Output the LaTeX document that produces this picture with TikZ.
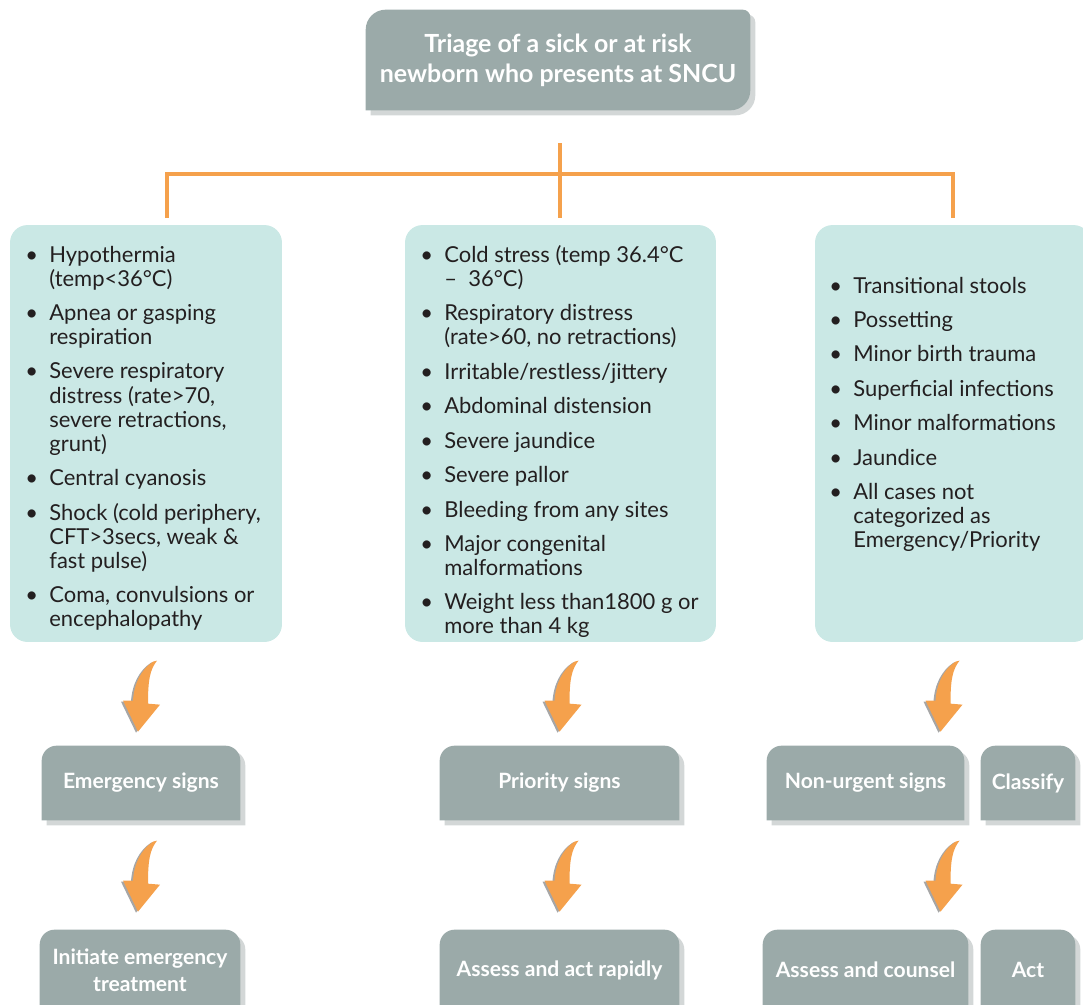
\documentclass[tikz,border=0pt]{standalone}
\usepackage{fontspec}
\setmainfont{Lato}
\usetikzlibrary{positioning,calc,backgrounds}

\definecolor{triagegray}{HTML}{9BAAA9}
\definecolor{shadowgray}{HTML}{D3D7D7}
\definecolor{paleteal}{HTML}{CAE8E5}
\definecolor{linkorange}{HTML}{F5A14C}
\definecolor{inkgray}{HTML}{231F20}

\newcommand{\itm}{\makebox[0.48cm][l]{\textbullet}}
\newcommand{\bendpath}{(0,0) -- (-15,-31) -- (-5,-31) .. controls (-4,-48) and (3,-62) .. (15,-70) -- (19,-71) .. controls (12,-62) and (10,-52) .. (10,-28) -- (22,-27) -- cycle}

\tikzset{
  signtext/.style={text=white, font=\fontsize{12}{15.3}\selectfont\bfseries, align=center, inner sep=0pt},
  listbox/.style={fill=paleteal, rounded corners=0.35cm},
  listtext/.style={text=inkgray, font=\fontsize{12.5}{13.6}\selectfont, inner sep=0pt, anchor=base west},
  link/.style={draw=linkorange, line width=2.8pt},
  dropshadow/.style={shadowgray, transform canvas={xshift=0.1cm, yshift=-0.1cm}},
  bendarrow/.pic={
    \fill[black!35, shift={(-2,1)}] \bendpath;
    \fill[linkorange] \bendpath;
  }
}

\begin{document}
\begin{tikzpicture}[x=0.02cm, y=-0.02cm]
\useasboundingbox (0,0) rectangle (1083,1005);

% title
\node[signtext, font=\fontsize{14.2}{17}\selectfont\bfseries, minimum width=7.68cm, minimum height=2cm] (topbox) at (558,60) {Triage of a sick or at risk\\newborn who presents at SNCU};

% orange links
\coordinate (stemtop) at (560,143);
\coordinate (leftleg) at (167,218);
\coordinate (midleg) at (560,218);
\coordinate (rightleg) at (953,218);
\draw[link] (stemtop) -- (midleg);
\draw[link] (leftleg) -- ++(0,-44) -| (rightleg);

% sign lists
\node[listbox, minimum width=5.44cm, minimum height=8.34cm] (emergbox) at (146,433.5) {};
\node[listbox, minimum width=6.22cm, minimum height=8.34cm] (prioritybox) at (560.5,433.5) {};
\node[listbox, minimum width=5.52cm, minimum height=8.34cm] (nonurgentbox) at (953,433.5) {};

\node[listtext] (emerglist) at (25,262) {\begin{tabular}[t]{@{}l@{}l@{}}
\itm & Hypothermia\\
 & (temp<36°C)\\[6pt]
\itm & Apnea or gasping\\
 & respiration\\[6pt]
\itm & Severe respiratory\\
 & distress (rate>70,\\
 & severe retractions,\\
 & grunt)\\[6pt]
\itm & Central cyanosis\\[6pt]
\itm & Shock (cold periphery,\\
 & CFT>3secs, weak \&\\
 & fast pulse)\\[6pt]
\itm & Coma, convulsions or\\
 & encephalopathy
\end{tabular}};

\node[listtext] (prioritylist) at (420,262) {\begin{tabular}[t]{@{}l@{}l@{}}
\itm & Cold stress (temp 36.4°C\\
 & –\ \ 36°C)\\[6pt]
\itm & Respiratory distress\\
 & (rate>60, no retractions)\\[6pt]
\itm & Irritable/restless/jittery\\[6pt]
\itm & Abdominal distension\\[6pt]
\itm & Severe jaundice\\[6pt]
\itm & Severe pallor\\[6pt]
\itm & Bleeding from any sites\\[6pt]
\itm & Major congenital\\
 & malformations\\[6pt]
\itm & Weight less than1800 g or\\
 & more than 4 kg
\end{tabular}};

\node[listtext] (nonurgentlist) at (829,293) {\begin{tabular}[t]{@{}l@{}l@{}}
\itm & Transitional stools\\[6pt]
\itm & Possetting\\[6pt]
\itm & Minor birth trauma\\[6pt]
\itm & Superficial infections\\[6pt]
\itm & Minor malformations\\[6pt]
\itm & Jaundice\\[6pt]
\itm & All cases not\\
 & categorized as\\
 & Emergency/Priority
\end{tabular}};

% sign boxes
\node[signtext, minimum width=3.96cm, minimum height=1.48cm] (emerg) at (141,783) {Emergency signs};
\node[signtext, minimum width=4.78cm, minimum height=1.48cm] (priority) at (559.5,783) {Priority signs};
\node[signtext, minimum width=3.94cm, minimum height=1.48cm] (nonurgent) at (865.5,783) {Non-urgent signs};
\node[signtext, minimum width=1.88cm, minimum height=1.48cm] (classify) at (1028,783) {Classify};

% action boxes
\node[signtext, minimum width=4cm, minimum height=1.6cm] (initiate) at (140,970) {Initiate emergency\\treatment};
\node[signtext, minimum width=4.78cm, minimum height=1.6cm] (rapid) at (559.5,970) {Assess and act rapidly};
\node[signtext, minimum width=4.1cm, minimum height=1.6cm] (counsel) at (865.5,970) {Assess and counsel};
\node[signtext, minimum width=1.88cm, minimum height=1.6cm] (act) at (1028,970) {Act};

% bent arrows
\pic at ($(emerg.north)+(-3,-14)$) {bendarrow};
\pic at ($(priority.north)+(0,-14)$) {bendarrow};
\pic at ($(nonurgent.north)+(75,-14)$) {bendarrow};
\pic at ($(initiate.north)+(-2,-18)$) {bendarrow};
\pic at ($(rapid.north)+(0,-18)$) {bendarrow};
\pic at ($(counsel.north)+(75,-18)$) {bendarrow};

% box fills behind the white text
\begin{scope}[on background layer]
\fill[dropshadow] (topbox.south west) [rounded corners=0.4cm] -- (topbox.north west) [rounded corners=0.15cm] -- (topbox.north east) [rounded corners=0.4cm] -- (topbox.south east) [sharp corners] -- cycle;
\fill[triagegray] (topbox.south west) [rounded corners=0.4cm] -- (topbox.north west) [rounded corners=0.15cm] -- (topbox.north east) [rounded corners=0.4cm] -- (topbox.south east) [sharp corners] -- cycle;
\foreach \b in {emerg,priority,nonurgent,initiate,rapid,counsel} {
  \fill[dropshadow] (\b.south west) [rounded corners=0.3cm] |- (\b.north east) [sharp corners] |- cycle;
  \fill[triagegray] (\b.south west) [rounded corners=0.3cm] |- (\b.north east) [sharp corners] |- cycle;
}
\foreach \b in {classify,act} {
  \fill[dropshadow] (\b.south east) [rounded corners=0.3cm] |- (\b.north west) [sharp corners] |- cycle;
  \fill[triagegray] (\b.south east) [rounded corners=0.3cm] |- (\b.north west) [sharp corners] |- cycle;
}
\end{scope}
\end{tikzpicture}
\end{document}
